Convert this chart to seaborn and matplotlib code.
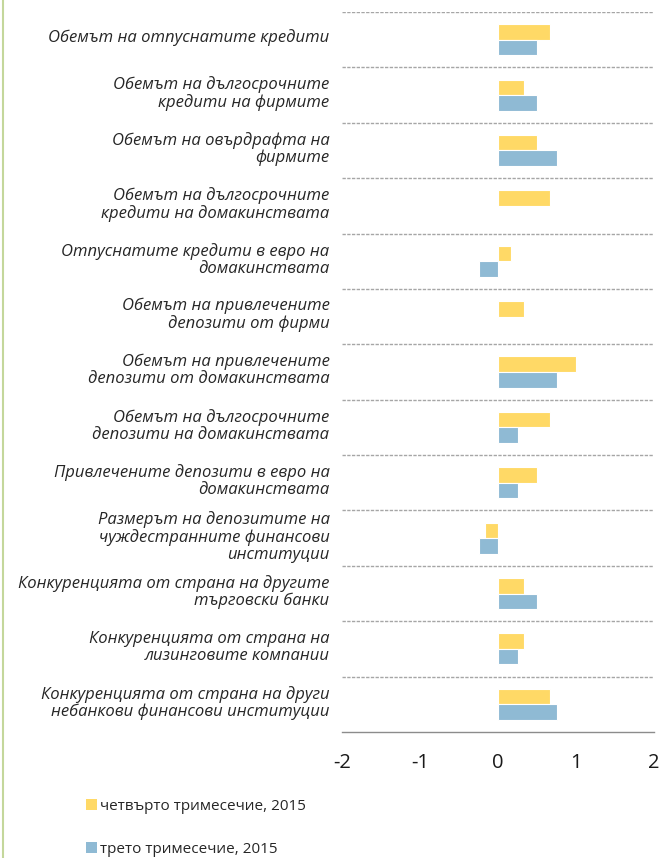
import matplotlib
matplotlib.use("Agg")
import matplotlib.pyplot as plt
import matplotlib.transforms as mtransforms
from matplotlib.patches import Patch
from matplotlib.lines import Line2D
import numpy as np
import pandas as pd
import seaborn as sns

# Survey indicators (top to bottom)
categories = [
    "Обемът на отпуснатите кредити",
    "Обемът на дългосрочните\nкредити на фирмите",
    "Обемът на овърдрафта на\nфирмите",
    "Обемът на дългосрочните\nкредити на домакинствата",
    "Отпуснатите кредити в евро на\nдомакинствата",
    "Обемът на привлечените\nдепозити от фирми",
    "Обемът на привлечените\nдепозити от домакинствата",
    "Обемът на дългосрочните\nдепозити на домакинствата",
    "Привлечените депозити в евро на\nдомакинствата",
    "Размерът на депозитите на\nчуждестранните финансови\nинституции",
    "Конкуренцията от страна на другите\nтърговски банки",
    "Конкуренцията от страна на\nлизинговите компании",
    "Конкуренцията от страна на други\nнебанкови финансови институции",
]

series_names = ["четвърто тримесечие, 2015", "трето тримесечие, 2015"]
q4_2015 = [0.67, 0.33, 0.5, 0.67, 0.17, 0.33, 1.0, 0.67, 0.5, -0.17, 0.33, 0.33, 0.67]
q3_2015 = [0.5, 0.5, 0.75, 0.0, -0.25, 0.0, 0.75, 0.25, 0.25, -0.25, 0.5, 0.25, 0.75]
x_ticks = [-2, -1, 0, 1, 2]

colors = {series_names[0]: "#FFD966", series_names[1]: "#8FBAD4"}

df = pd.DataFrame({
    "category": categories * 2,
    "series": [series_names[0]] * len(categories) + [series_names[1]] * len(categories),
    "value": q4_2015 + q3_2015,
})

sns.set_theme(style="white")
plt.rcParams["font.family"] = ["Open Sans", "DejaVu Sans"]

fig = plt.figure(figsize=(6.6, 8.58), dpi=100)
ax = fig.add_axes([342 / 660, 1 - 732 / 858, 312 / 660, 720 / 858])

sns.barplot(
    data=df, x="value", y="category", hue="series",
    order=categories, hue_order=series_names, palette=colors,
    orient="h", width=0.56, saturation=1, edgecolor="white", linewidth=0.8,
    legend=False, ax=ax,
)

ax.set_xlim(-2, 2)
ax.set_ylim(len(categories) - 0.5, -0.5)
ax.set_xticks(x_ticks)
ax.set_xticklabels([str(t) for t in x_ticks], fontsize=14.5, color="#1a1a1a")
ax.tick_params(axis="x", length=0, pad=15)
ax.tick_params(axis="y", length=0, pad=9)
lift = mtransforms.ScaledTranslation(0, 4 / 100, fig.dpi_scale_trans)
for lbl in ax.get_yticklabels():
    lbl.set_fontstyle("italic")
    lbl.set_fontsize(12)
    lbl.set_color("#262626")
    lbl.set_linespacing(1.08)
    lbl.set_transform(lbl.get_transform() + lift)
ax.set_xlabel("")
ax.set_ylabel("")

# dashed separators between categories
for b in np.arange(-0.5, len(categories) - 1, 1.0):
    ax.axhline(b, color="#a6a6a6", linewidth=1.0, linestyle=(0, (2.4, 1.0)), zorder=0)

for side in ["top", "right", "left"]:
    ax.spines[side].set_visible(False)
ax.spines["bottom"].set_color("#8c8c8c")
ax.spines["bottom"].set_linewidth(1.0)

# legend
handles = [Patch(facecolor=colors[s], edgecolor="none") for s in series_names]
fig.legend(
    handles, series_names, loc="upper left",
    bbox_to_anchor=(80 / 660, 1 - 793 / 858), frameon=False,
    fontsize=11, handlelength=0.7, handleheight=0.7, handletextpad=0.2,
    labelspacing=1.8, borderaxespad=0,
)

# thin border line at left edge
fig.add_artist(Line2D([2.5 / 660, 2.5 / 660], [0, 1], color="#c4d79b",
                      linewidth=1.5, transform=fig.transFigure))

fig.savefig("out.png", dpi=100)
